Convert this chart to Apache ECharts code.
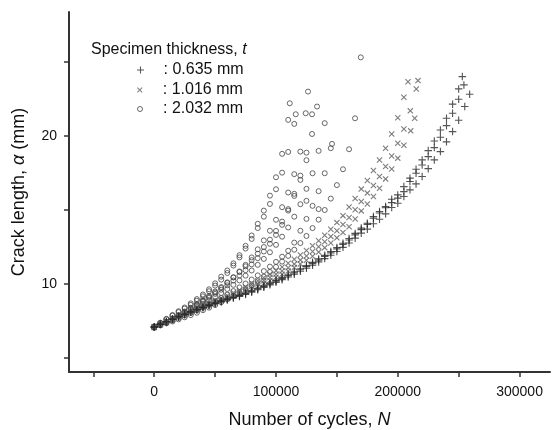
<!DOCTYPE html>
<html><head><meta charset="utf-8">
<script src="https://cdn.jsdelivr.net/npm/echarts@6/dist/echarts.min.js"></script>
<style>html,body{margin:0;padding:0;background:#fff}#c{width:556px;height:430px}</style>
</head><body><div id="c"></div>
<script>
// Number of cycles at which crack length was measured
const cycles = [0,5000,10000,15000,20000,25000,30000,35000,40000,45000,50000,55000,60000,65000,70000,75000,80000,85000,90000,95000,100000,105000,110000,115000,120000,125000,130000,135000,140000,145000,150000,155000,160000,165000,170000,175000,180000,185000,190000,195000,200000,205000,210000,215000,220000,225000,230000,235000,240000,245000,250000];

// Thickness 0.635 mm specimens (crack length, mm)
const thinA = [7.10,7.30,7.48,7.65,7.82,7.98,8.14,8.30,8.45,8.60,8.74,8.87,9.00,9.13,9.26,9.40,9.55,9.72,9.89,10.07,10.25,10.44,10.63,10.83,11.04,11.25,11.47,11.70,11.94,12.20,12.47,12.76,13.08,13.42,13.78,14.11,14.56,14.90,15.23,15.73,16.02,16.58,17.15,17.75,18.38,19.01,19.66,20.40,21.19,22.14,23.17];
const thinB = [7.12,7.29,7.46,7.63,7.80,7.96,8.12,8.28,8.43,8.58,8.71,8.84,8.97,9.10,9.22,9.36,9.51,9.67,9.84,10.02,10.20,10.38,10.57,10.77,10.97,11.18,11.40,11.62,11.86,12.11,12.38,12.67,12.98,13.32,13.68,14.03,14.45,14.80,15.15,15.50,15.80,16.24,16.92,17.48,18.04,18.60,19.21,19.91,20.69,21.53,22.47];
const thinC = [7.10,7.28,7.45,7.62,7.78,7.94,8.10,8.25,8.40,8.55,8.68,8.80,8.93,9.06,9.17,9.30,9.45,9.62,9.78,9.95,10.12,10.30,10.48,10.67,10.87,11.07,11.28,11.50,11.72,11.95,12.20,12.48,12.77,13.10,13.44,13.71,14.07,14.38,14.74,15.17,15.46,15.91,16.36,16.76,17.26,17.79,18.38,18.94,19.60,20.29,21.06];
const thinExtra = [[253000,24.0],[254300,23.44],[255000,21.98],[259000,22.81]];

// Thickness 1.016 mm specimens
const midA = [7.12,7.31,7.50,7.68,7.86,8.03,8.20,8.37,8.54,8.71,8.88,9.05,9.23,9.41,9.60,9.80,10.00,10.21,10.43,10.66,10.90,11.15,11.41,11.68,11.97,12.27,12.59,12.93,13.30,13.70,14.15,14.62,15.20,15.78,16.41,16.99,17.66,18.38,19.17,20.13,21.23,22.61];
const midB = [7.10,7.29,7.47,7.65,7.82,7.99,8.15,8.31,8.47,8.63,8.79,8.95,9.12,9.29,9.47,9.65,9.84,10.03,10.23,10.44,10.66,10.88,11.11,11.35,11.62,11.90,12.20,12.52,12.86,13.22,13.60,14.02,14.50,15.02,15.57,16.14,16.65,17.26,17.93,18.65,19.51,20.47];
const midC = [7.08,7.26,7.44,7.61,7.78,7.94,8.10,8.26,8.41,8.56,8.71,8.86,9.02,9.18,9.34,9.51,9.68,9.86,10.05,10.25,10.46,10.67,10.89,11.12,11.36,11.61,11.88,12.16,12.46,12.78,13.12,13.48,13.87,14.39,14.94,15.41,15.91,16.47,17.10,17.77,18.50,19.37];
const midExtra = [[208400,23.66],[210300,21.69],[215200,23.17],[210600,20.34],[213900,21.19],[216600,23.73]];

// Thickness 2.032 mm specimens
const thickA = [7.15,7.40,7.66,7.92,8.17,8.42,8.70,8.99,9.30,9.65,10.05,10.50,10.92,11.40,11.95,12.58,13.28,14.07,14.96,15.97,17.21,18.79,21.08];
const thickB = [7.12,7.37,7.62,7.87,8.11,8.35,8.60,8.88,9.18,9.52,9.90,10.30,10.75,11.25,11.80,12.40,13.05,13.78,14.55,15.41,16.40,17.52,18.92,20.81];
const thickC = [7.05,7.25,7.45,7.66,7.88,8.11,8.35,8.60,8.87,9.14,9.43,9.74,10.08,10.45,10.85,11.30,11.80,12.35,12.95,13.60,14.34,15.19,16.18,17.42,18.94];
const thickD = [7.08,7.26,7.46,7.68,7.91,8.15,8.40,8.66,8.93,9.21,9.50,9.80,10.12,10.46,10.82,11.20,11.62,12.05,12.50,13.00,13.59,14.22,15.06,16.09,17.32,18.87];
const thickE = [7.10,7.27,7.46,7.66,7.87,8.09,8.32,8.56,8.81,9.07,9.34,9.62,9.92,10.24,10.58,10.94,11.33,11.75,12.20,12.72,13.32,14.00,14.96,15.95,17.03,18.36];
const thickF = [7.10,7.28,7.46,7.65,7.84,8.04,8.25,8.46,8.68,8.91,9.15,9.40,9.67,9.95,10.25,10.57,10.92,11.30,11.70,12.15,12.65,13.20,13.82,14.55,15.39,16.43,17.48,18.99,20.86];
const thickG = [7.10,7.25,7.40,7.56,7.72,7.89,8.06,8.24,8.43,8.63,8.84,9.06,9.29,9.53,9.78,10.04,10.31,10.59,10.88,11.18,11.50,11.85,12.25,12.80,13.60,14.40,15.28,16.27,17.48,19.17];
const thickH = [7.10,7.22,7.35,7.48,7.62,7.76,7.91,8.07,8.24,8.41,8.59,8.78,8.98,9.19,9.42,9.66,9.92,10.20,10.50,10.82,11.16,11.52,11.90,12.32,12.77,13.25,13.78,14.35,15.00,15.77,16.68,17.75,19.10];
const thickExtra = [[111300,22.2],[116200,21.46],[124400,21.53],[126300,22.99],[129600,21.46],[133700,21.98],[129600,20.13],[146000,19.46],[164900,21.19],[169600,25.3],[125000,15.62],[135000,15.06]];

const seriesNames = ['0.635 mm','1.016 mm','2.032 mm'];
const xTicks = [-50000,0,50000,100000,150000,200000,250000,300000];
const xLabels = [0,100000,200000,300000];
const yTicks = [5,10,15,20,25];
const yLabels = [10,20];

function build(specimens, extra) {
  const out = [];
  specimens.forEach(ys => ys.forEach((y, i) => out.push([cycles[i], y])));
  return out.concat(extra);
}

const PLUS = 'path://M0,3.4L8,3.4L8,4.6L0,4.6Z M3.4,0L4.6,0L4.6,8L3.4,8Z';
const CROSS = 'path://M0,1.3L1.3,0L10,8.7L8.7,10Z M10,1.3L1.3,10L0,8.7L8.7,0Z';
const FONT = "'Liberation Sans', Arial, sans-serif";
const legendText = { fontSize: 16, color: '#111', fontFamily: FONT };

const chart = echarts.init(document.getElementById('c'));
chart.setOption({
  animation: false,
  backgroundColor: '#fff',
  textStyle: { fontFamily: FONT },
  grid: { left: 69, right: 6, top: 12, bottom: 58, containLabel: false, outerBoundsMode: 'none' },
  title: {
    text: '{a|Specimen thickness, }{i|t}',
    left: 86, top: 37,
    textStyle: { fontWeight: 'normal', rich: {
      a: { fontSize: 16, fontFamily: FONT, color: '#111' },
      i: { fontSize: 16, fontFamily: FONT, color: '#111', fontStyle: 'italic' } } }
  },
  legend: [
    { data: [{ name: seriesNames[0], icon: PLUS }], left: 132, top: 57, itemWidth: 36, itemHeight: 7, formatter: ': {name}', selectedMode: false,
      textStyle: legendText },
    { data: [{ name: seriesNames[1], icon: CROSS }], left: 132, top: 77, itemWidth: 36, itemHeight: 5.5, formatter: ': {name}', selectedMode: false,
      textStyle: legendText },
    { data: [{ name: seriesNames[2], icon: 'circle' }], left: 132, top: 96, itemWidth: 36, itemHeight: 5, formatter: ': {name}', selectedMode: false,
      itemStyle: { color: 'rgba(0,0,0,0)', borderColor: '#444', borderWidth: 1 },
      textStyle: legendText }
  ],
  xAxis: {
    type: 'value', min: -70000, max: 325000,
    axisLine: { show: true, onZero: false, lineStyle: { color: '#333', width: 2 } },
    axisTick: { show: true, length: 5, customValues: xTicks, lineStyle: { color: '#333', width: 1.5 } },
    axisLabel: { customValues: xLabels, formatter: v => String(v), margin: 13, fontSize: 14, color: '#111', fontFamily: FONT },
    splitLine: { show: false },
    name: '{n|Number of cycles, }{i|N}', nameLocation: 'middle', nameGap: 39,
    nameTextStyle: { rich: {
      n: { fontSize: 18, color: '#111', fontFamily: FONT },
      i: { fontSize: 18, color: '#111', fontFamily: FONT, fontStyle: 'italic' } } }
  },
  yAxis: {
    type: 'value', min: 4.07, max: 28.36,
    axisLine: { show: true, onZero: false, lineStyle: { color: '#333', width: 2 } },
    axisTick: { show: true, length: 5, customValues: yTicks, lineStyle: { color: '#333', width: 1.5 } },
    axisLabel: { customValues: yLabels, margin: 12, fontSize: 14, color: '#111', fontFamily: FONT },
    splitLine: { show: false },
    name: '{n|Crack length, }{i|α}{n| (mm)}', nameLocation: 'middle', nameGap: 41,
    nameTextStyle: { rich: {
      n: { fontSize: 18, color: '#111', fontFamily: FONT },
      i: { fontSize: 18, color: '#111', fontFamily: FONT, fontStyle: 'italic' } } }
  },
  series: [
    { name: seriesNames[2], type: 'scatter', symbol: 'circle', symbolSize: 5, silent: true,
      itemStyle: { color: 'rgba(0,0,0,0)', borderColor: '#444', borderWidth: 1 },
      data: build([thickA, thickB, thickC, thickD, thickE, thickF, thickG, thickH], thickExtra) },
    { name: seriesNames[1], type: 'scatter', symbol: CROSS, symbolSize: 6, silent: true,
      itemStyle: { color: '#5c5c5c' },
      data: build([midA, midB, midC], midExtra) },
    { name: seriesNames[0], type: 'scatter', symbol: PLUS, symbolSize: 7.5, silent: true,
      itemStyle: { color: '#2a2a2a' },
      data: build([thinA, thinB, thinC], thinExtra) }
  ]
});
</script>
</body></html>
